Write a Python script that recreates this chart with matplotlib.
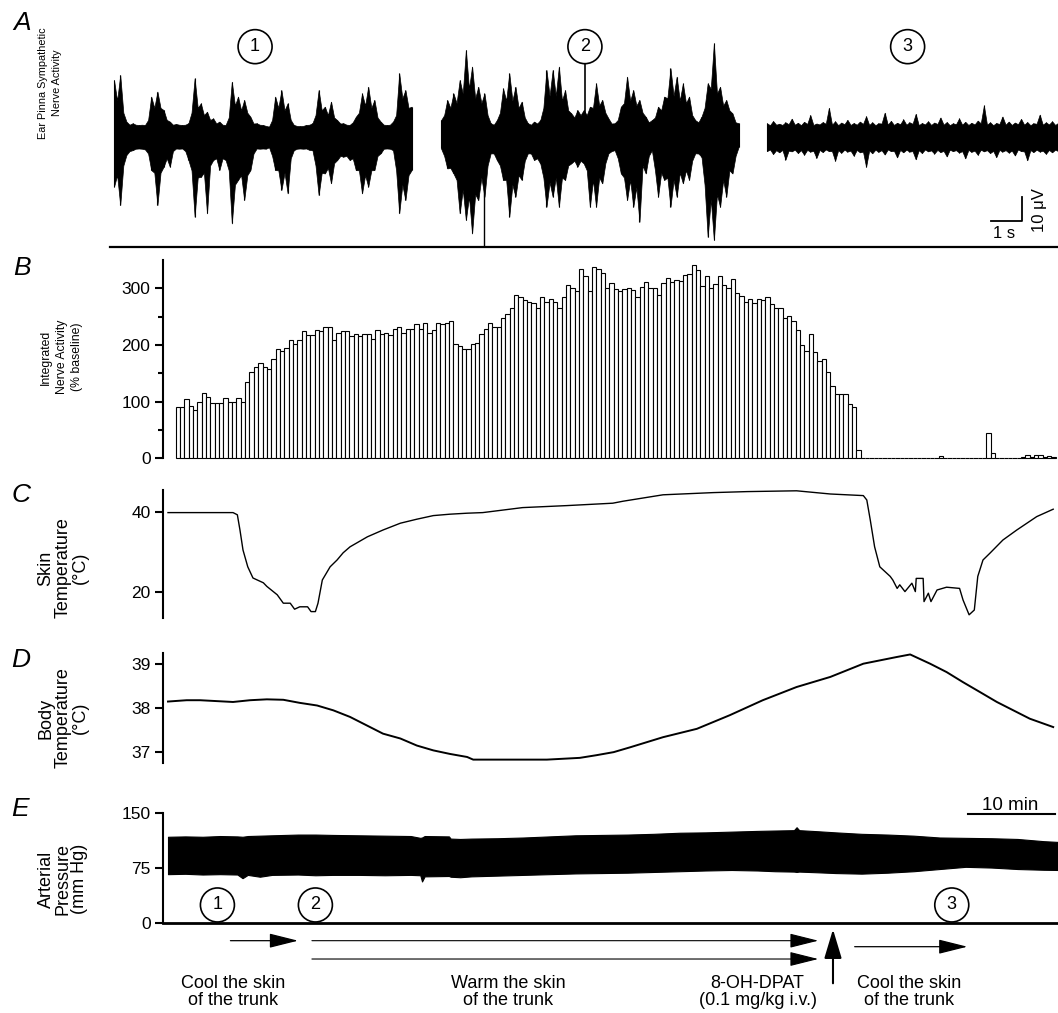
import matplotlib
matplotlib.use('Agg')
import matplotlib.pyplot as plt
import numpy as np
from matplotlib.patches import Ellipse
from matplotlib import font_manager

plt.rcParams['font.family'] = ['Liberation Sans', 'DejaVu Sans']
installed = {f.name for f in font_manager.fontManager.ttflist}
NARROW = 'Liberation Sans Narrow' in installed

# ---- A: sympathetic nerve activity envelope (uV), peaks every 0.2 s, valleys in between ----
seg_start = [0.13, 10.68, 21.19]   # s
seg1_up = [23.6, 25.7, 6.3, 5.6, 4.9, 4.9, 16.7, 18.8, 11.1, 6.3, 5.3, 4.9, 5.6, 24.3, 13.9, 10.4, 7.6,
           6.3, 4.9, 22.9, 16.7, 15.3, 8.3, 5.6, 4.9, 4.2, 16.7, 19.4, 13.9, 4.9, 4.4, 4.9, 5.6, 19.4,
           12.5, 14.6, 6.9, 5.6, 4.9, 8.3, 18.0, 20.8, 15.3, 6.3, 4.9, 6.3, 26.4, 19.4, 12.5]
seg1_lo = [-20.8, -28.5, -7.6, -5.6, -4.9, -5.3, -13.9, -28.5, -12.5, -12.5, -4.9, -4.9, -9.7, -33.3,
           -16.7, -31.9, -9.7, -13.9, -9.7, -36.1, -18.0, -26.4, -13.9, -4.9, -4.9, -4.4, -13.9, -22.2,
           -23.6, -5.6, -4.9, -4.9, -5.6, -24.3, -15.3, -19.4, -9.7, -8.3, -9.7, -13.9, -23.6, -20.8,
           -13.9, -6.9, -4.9, -5.6, -31.9, -26.4, -13.9]
seg1_vup = [15, 10, 5, 5, 5, 7, 12, 12, 7, 5, 5, 5, 10, 12, 9, 7, 5.5, 5, 8, 13, 11, 10, 5.5, 5, 4.5, 7,
            12, 11, 7, 4.5, 4.5, 5, 9, 11, 9, 8, 5.5, 5, 6, 10, 13, 12, 8, 5, 5, 9, 16, 12]
seg1_vlo = [-16, -12, -6, -5, -5, -7, -15, -15, -9, -6, -5, -6, -14, -17, -15, -12, -9, -9, -14, -20,
            -16, -16, -7, -5, -5, -8, -14, -15, -9, -5, -5, -5.5, -12, -15, -13, -11, -8, -8, -9, -14,
            -16, -14, -8, -5, -5, -14, -20, -16]
seg2_up = [6.9, 15.3, 18.0, 23.6, 36.1, 29.2, 20.8, 18.0, 5.6, 6.9, 20.1, 26.4, 20.8, 14.6, 5.6, 6.3,
           6.9, 27.8, 27.8, 29.2, 19.4, 9.7, 11.1, 11.1, 12.5, 22.2, 15.3, 7.6, 5.6, 12.5, 25.0, 19.4,
           15.3, 8.3, 6.9, 12.5, 16.7, 28.5, 25.0, 22.2, 16.7, 6.9, 8.3, 22.2, 38.9, 20.8, 15.3, 9.7, 5.6]
seg2_lo = [-4.9, -13.2, -15.3, -31.9, -34.7, -40.3, -26.4, -25.0, -6.9, -9.7, -18.0, -33.3, -25.0,
           -18.0, -6.9, -9.7, -11.1, -29.2, -25.0, -29.2, -18.0, -11.1, -12.5, -11.1, -29.2, -29.2,
           -19.4, -6.9, -5.6, -15.3, -26.4, -29.2, -35.4, -15.3, -5.6, -25.0, -18.0, -29.2, -25.0,
           -19.4, -18.0, -6.9, -8.3, -41.7, -43.0, -29.2, -25.0, -15.3, -4.2]
seg2_vup = [9, 12, 14, 18, 20, 16, 14, 9, 5, 10, 15, 15, 12, 8, 5, 5.5, 12, 17, 17, 15, 11, 8, 9, 9, 12,
            13, 10, 5.5, 7, 14, 15, 13, 10, 6, 8, 11, 16, 17, 15, 14, 9, 6, 12, 20, 18, 13, 11, 6]
seg2_vlo = [-8, -13, -18, -22, -25, -24, -17, -12, -7, -12, -18, -20, -16, -10, -7, -9, -17, -19, -17,
            -17, -12, -10, -10, -14, -18, -17, -11, -6, -9, -17, -18, -21, -12, -8, -14, -15, -17, -18,
            -15, -14, -10, -7, -20, -26, -24, -18, -14, -8]
seg3_up = [5.6, 6.5, 5.4, 6.0, 7.5, 5.8, 6.2, 9.0, 5.5, 6.1, 12.0, 6.4, 5.9, 7.0, 5.7, 6.3, 8.5, 6.0,
           5.6, 10.0, 6.6, 5.8, 7.2, 6.0, 9.5, 5.7, 6.4, 5.9, 8.0, 6.1, 5.6, 7.6, 6.2, 5.8, 6.7, 13.0,
           6.0, 5.7, 8.4, 6.3, 5.9, 7.4, 6.1, 5.6, 9.2, 6.0, 6.4, 5.8]
seg3_lo = [-6.0, -7.2, -6.5, -9.5, -6.1, -6.8, -7.5, -6.2, -8.8, -6.4, -6.0, -10.0, -6.7, -6.2, -7.9,
           -6.5, -12.5, -6.9, -6.3, -7.4, -6.0, -8.6, -6.5, -6.2, -9.4, -6.8, -6.1, -7.0, -6.4, -8.2,
           -6.0, -6.6, -9.0, -6.3, -7.5, -6.1, -6.8, -8.5, -6.2, -6.6, -7.8, -6.0, -9.8, -6.4, -6.2,
           -7.1, -6.5, -6.0]
seg3_vup = [4.8, 5.0, 4.9, 5.2, 5.0, 4.8, 5.3, 4.9, 5.1, 5.4, 5.0, 4.8, 5.2, 4.9, 5.0, 5.3, 4.9, 4.8,
            5.5, 5.0, 4.9, 5.2, 5.0, 5.4, 4.8, 5.1, 4.9, 5.3, 5.0, 4.8, 5.2, 5.0, 4.9, 5.1, 5.6, 5.0,
            4.8, 5.3, 5.0, 4.9, 5.2, 5.0, 4.8, 5.4, 5.0, 5.1, 4.9]
seg3_vlo = [-5.3, -5.6, -5.5, -5.8, -5.4, -5.6, -5.5, -5.9, -5.5, -5.3, -6.0, -5.6, -5.4, -5.8, -5.5,
            -6.2, -5.7, -5.4, -5.6, -5.3, -5.9, -5.5, -5.4, -6.0, -5.6, -5.3, -5.7, -5.5, -5.9, -5.4,
            -5.6, -6.0, -5.5, -5.8, -5.4, -5.6, -5.9, -5.5, -5.6, -5.8, -5.3, -6.1, -5.6, -5.4, -5.8,
            -5.5, -5.4]
artifact_t, artifact_lo = 12.06, -45.8

# ---- B: integrated nerve activity, 0.5-min bins (% baseline) ----
bin_start, bin_width = 0.9, 0.5
nerve_pct = [91, 91, 104, 92, 86, 100, 116, 108, 97, 97, 98, 106, 100, 100, 107, 99, 135, 153, 161, 169,
             162, 158, 176, 193, 189, 195, 209, 202, 209, 225, 218, 218, 226, 225, 232, 232, 209, 222,
             224, 224, 215, 219, 216, 220, 219, 211, 226, 219, 222, 218, 228, 232, 222, 228, 228, 237,
             229, 239, 222, 226, 239, 237, 238, 242, 202, 198, 193, 193, 201, 203, 220, 228, 238, 231,
             231, 247, 254, 265, 289, 285, 280, 276,
             274, 266, 285, 276, 281, 276, 266, 284, 305, 301, 296, 334, 322, 296, 338, 334, 327, 300,
             309, 298, 296, 298, 300, 297, 284, 303, 312, 300, 300, 289, 309, 318, 312, 315, 313, 324,
             325, 342, 332, 304, 322, 301, 307, 321, 306, 300, 316, 292, 286, 276, 282, 274, 282, 279,
             284, 272, 266, 265, 247, 252, 242, 226, 200, 190, 219, 187, 172, 175, 152, 128, 114, 114,
             114, 96, 91, 15,
             1, 1, 1, 1, 1, 1, 1, 1, 1, 1, 1, 1, 1, 1, 1, 1, 1, 1, 4, 1, 1, 1, 1, 1, 1, 1, 1, 1, 1, 44,
             10, 1, 1, 1, 1, 1, 1, 3, 6, 2, 6, 6, 3, 4, 3]

# ---- C: skin temperature (degC) ----
skin_t = [0, 7.5, 8.0, 8.3, 8.65, 9.2, 9.8, 11.0, 11.4, 12.6, 13.3, 14.1, 14.6, 15.2, 16.1, 16.5, 17.0,
          17.3, 17.8, 18.7, 19.5, 20.2, 21.0, 21.8, 23.0, 24.8, 26.8, 28.7, 30.6, 32.5, 34.5, 36.3, 40.9,
          46.0, 51.3, 52.5, 57.1, 62.9, 66.8, 72.5, 76.4, 80.2, 80.6, 81.0,
          81.5, 82.1, 83.3, 83.6, 84.1, 84.4, 85.0, 85.8, 86.2, 86.3, 87.1, 87.2, 87.7, 88.0, 88.7, 89.8,
          91.3, 91.7, 92.4, 93.0, 93.4, 94.0, 94.8, 96.3, 97.9, 100.2, 102.1]
skin_temp = [39.75, 39.75, 39.2, 35.4, 30.4, 26.2, 23.4, 22.2, 21.3, 19.2, 17.1, 17.1, 15.6, 16.2, 16.2,
             15.0, 15.0, 17.1, 22.9, 26.2, 27.9, 29.7, 31.2, 32.2, 33.7, 35.4, 37.1, 38.1, 39.0, 39.35,
             39.6, 39.75, 41.0, 41.5, 42.1, 42.6, 44.2, 44.75, 45.0, 45.2, 44.4, 44.0, 42.9, 37.9,
             31.2, 26.2, 23.8, 22.9, 20.8, 21.7, 20.0, 22.1, 20.0, 23.3, 23.3, 17.5, 19.6, 17.5, 20.4,
             21.1, 20.8, 17.9, 14.2, 15.4, 23.8, 27.9, 29.6, 32.9, 35.4, 38.75, 40.6]

# ---- D: body temperature (degC) ----
body_t = [0, 2.15, 3.7, 5.6, 7.5, 9.46, 11.4, 13.3, 15.2, 17.2, 19.07, 21.0, 22.9, 24.8, 26.8, 28.7,
          30.6, 32.5, 34.5, 35.2, 40.9, 43.7, 47.5, 49.4, 51.4, 53.3, 57.1, 61.0, 64.8, 68.6, 72.5, 76.4,
          80.2, 84.0, 85.6, 87.9, 89.8, 91.7, 93.7, 95.6, 97.5, 99.4, 102.1]
body_temp = [38.14, 38.17, 38.17, 38.15, 38.13, 38.17, 38.19, 38.18, 38.11, 38.05, 37.94, 37.79, 37.60,
             37.41, 37.30, 37.14, 37.03, 36.95, 36.88, 36.82, 36.82, 36.82, 36.86, 36.92, 36.99, 37.10,
             37.33, 37.52, 37.83, 38.17, 38.47, 38.70, 39.0, 39.15, 39.21, 39.0, 38.81, 38.58, 38.35,
             38.13, 37.94, 37.75, 37.56]

# ---- E: arterial pressure envelope (mm Hg) ----
ap_t = [0, 2, 4, 6, 8.0, 8.6, 9.2, 10.6, 12, 15, 17, 19, 22, 25, 28, 29.1, 29.3, 29.6, 32.4, 32.6,
        33.7, 35, 38, 41, 44, 47, 50, 53, 56, 59, 62, 65, 68, 70, 72.2, 72.5, 72.8, 75, 77, 80,
        83, 86, 89, 92, 95, 98, 101, 102.6]
ap_top = [118, 118.5, 118, 119, 118.5, 118, 119, 119.5, 120, 121, 121, 120.5, 120, 119.5, 119, 116.5,
          117, 119, 118.5, 115.5, 115, 115.5, 116, 117, 118.5, 120, 120.5, 121, 122, 123.5, 124, 125,
          126, 126.5, 127, 131, 127, 125.5, 124, 122, 121, 119.5, 117, 116.5, 116, 115, 112, 111]
ap_bot = [67, 67.5, 66.5, 67, 66.5, 61.5, 66, 63.5, 66, 66.5, 65.5, 66, 66, 65.5, 66, 65.5, 57, 64,
          64.5, 63.5, 62.8, 64, 65, 66, 67, 68, 68.5, 69, 70, 71, 72, 72.7, 72, 71, 70.5, 70, 70.5,
          69.5, 68.5, 67.7, 69, 71, 74, 77, 76, 74, 73, 72.7]

# protocol events (min)
marker_t = [5.7, 17.0, 90.4]
cool1 = (7.2, 15.0)
warm = (16.6, 75.0)
drug_t = 76.7
cool2 = (79.2, 92.2)

W, H = 1058, 1013
PXM = 8.67  # px per minute
fig = plt.figure(figsize=(W / 100, H / 100), dpi=100)


def box(left, top, right, bottom):
    return [left / W, 1 - bottom / H, (right - left) / W, (bottom - top) / H]


def ylab(x, y, s, size=13, family=None, ls=1.15):
    fig.text(x / W, 1 - y / H, s, rotation=90, ha='center', va='center', multialignment='center',
             fontsize=size, linespacing=ls, family=family)


def style(ax, bottom=False):
    for s in ['top', 'right']:
        ax.spines[s].set_visible(False)
    ax.spines['bottom'].set_visible(bottom)
    ax.spines['left'].set_linewidth(1.5)
    ax.spines['bottom'].set_linewidth(2)
    ax.set_xticks([])
    ax.tick_params(axis='y', direction='out', length=6, width=1.5, labelsize=12.5, pad=3)
    ax.set_xlim(-5 / PXM, 890 / PXM)


def interleave(peaks, valleys):
    out = []
    for i, p in enumerate(peaks):
        out.append(p)
        if i < len(valleys):
            out.append(valleys[i])
    return out


# ---------- A ----------
axA = fig.add_axes(box(110, 20, 1058, 246.7))
for s in ['top', 'right', 'left']:
    axA.spines[s].set_visible(False)
axA.spines['bottom'].set_linewidth(1.6)
axA.set_xticks([])
axA.set_yticks([])
axA.set_xlim(0, 948 / 31)
axA.set_ylim(-45.8, 48.6)
segs = [(seg_start[0], seg1_up, seg1_vup, seg1_lo, seg1_vlo),
        (seg_start[1], seg2_up, seg2_vup, seg2_lo, seg2_vlo),
        (seg_start[2], seg3_up, seg3_vup, seg3_lo, seg3_vlo)]
for t0, up, vup, lo, vlo in segs:
    env_up = interleave(up, vup)
    env_lo = interleave(lo, vlo)
    tt = t0 + 0.1 * np.arange(len(env_up))
    axA.fill_between(tt, env_lo, env_up, color='k', lw=0.5)
    axA.vlines(t0 + 0.2 * np.arange(len(up)), lo, up, color='k', lw=0.8)
axA.vlines(artifact_t, artifact_lo, 0, color='k', lw=1)
circ_a = [4.68, 15.32, 25.73]
for i, cx in enumerate(circ_a):
    axA.add_patch(Ellipse((cx, 37.5), 34 / 31, 34 / 2.4, fill=False, ec='k', lw=1.2, clip_on=False))
    axA.text(cx, 37.5, str(i + 1), ha='center', va='center', fontsize=13)
axA.plot([circ_a[1], circ_a[1]], [30.4, 5], color='k', lw=1.2)
# scale bar 1 s / 10 uV
axA.plot([28.42, 29.42, 29.42], [-35.1, -35.1, -25.1], color='k', lw=1.3)
axA.text(28.85, -37, '1 s', ha='center', va='top', fontsize=12)
axA.text(29.97, -30.5, '10 \u03bcV', ha='center', va='center', rotation=90, fontsize=12)

# ---------- B ----------
axB = fig.add_axes(box(163, 260, 1058, 458.3))
style(axB)
lefts = bin_start + bin_width * np.arange(len(nerve_pct))
axB.bar(lefts, nerve_pct, width=bin_width, align='edge', color='white', edgecolor='k', lw=0.8,
        clip_on=False)
axB.set_ylim(0, 350)
axB.set_yticks([0, 100, 200, 300])
axB.set_yticks([50, 150, 250], minor=True)
axB.tick_params(axis='y', which='minor', direction='out', length=3.5, width=1.5)

# ---------- C ----------
axC = fig.add_axes(box(163, 490, 1058, 618))
style(axC)
axC.plot(skin_t, skin_temp, color='k', lw=1)
axC.set_ylim(13.4, 45.4)
axC.set_yticks([20, 40])

# ---------- D ----------
axD = fig.add_axes(box(163, 652.7, 1058, 762.7))
style(axD)
axD.plot(body_t, body_temp, color='k', lw=1.4)
axD.set_ylim(36.75, 39.25)
axD.set_yticks([37, 38, 39])

# ---------- E ----------
axE = fig.add_axes(box(163, 813.3, 1058, 923.3))
style(axE, bottom=True)
axE.fill_between(ap_t, ap_bot, ap_top, color='k', lw=0.8)
axE.set_ylim(0, 150)
axE.set_yticks([0, 75, 150])
mm = 75 / 55  # mmHg per px
for i, cx in enumerate(marker_t):
    axE.add_patch(Ellipse((cx, 25), 34 / PXM, 34 * mm, fill=False, ec='k', lw=1.2, clip_on=False))
    axE.text(cx, 25, str(i + 1), ha='center', va='center', fontsize=13)
axE.plot([92.3, 102.3], [149, 149], color='k', lw=1.5, clip_on=False)
axE.text(97.1, 161, '10 min', ha='center', va='center', fontsize=13.5, clip_on=False)


def arrow(x0, y0, x1, y1, hl=1.0, hw=0.25, lw=0.9):
    axE.annotate('', xy=(x1, y1), xytext=(x0, y0), annotation_clip=False,
                 arrowprops=dict(arrowstyle='-|>,head_length=%g,head_width=%g' % (hl, hw),
                                 mutation_scale=18, lw=lw, color='k', shrinkA=0, shrinkB=0))


arrow(cool1[0], -23.7, cool1[1], -23.7)
arrow(warm[0], -23.7, warm[1], -23.7, lw=0.8)
arrow(warm[0], -48.7, warm[1], -48.7, lw=0.8)
arrow(drug_t, -81.8, drug_t, -8.2, hw=0.3, lw=1.5)
arrow(cool2[0], -31.9, cool2[1], -31.9)

ytxt = -70.5
axE.text(7.5, ytxt, 'Cool the skin\nof the trunk', ha='center', va='top', fontsize=13, linespacing=1.0,
         clip_on=False)
axE.text(39.2, ytxt, 'Warm the skin\nof the trunk', ha='center', va='top', fontsize=13, linespacing=1.0,
         clip_on=False)
axE.text(68.0, ytxt, '8-OH-DPAT\n(0.1 mg/kg i.v.)', ha='center', va='top', fontsize=13, linespacing=1.0,
         clip_on=False)
axE.text(85.5, ytxt, 'Cool the skin\nof the trunk', ha='center', va='top', fontsize=13, linespacing=1.0,
         clip_on=False)

# ---------- labels ----------
if NARROW:
    ylab(50, 83, 'Ear Pinna Sympathetic\nNerve Activity', size=8.5, family='Liberation Sans Narrow', ls=1.35)
    ylab(61.5, 357, 'Integrated\nNerve Activity\n(% baseline)', size=10, family='Liberation Sans Narrow')
else:
    ylab(50, 83, 'Ear Pinna Sympathetic\nNerve Activity', size=7.8, ls=1.5)
    ylab(61.5, 357, 'Integrated\nNerve Activity\n(% baseline)', size=8.8, ls=1.35)
ylab(63, 568, 'Skin\nTemperature\n(\u00b0C)', ls=1.0)
ylab(63, 718, 'Body\nTemperature\n(\u00b0C)', ls=1.0)
ylab(63, 879, 'Arterial\nPressure\n(mm Hg)', ls=1.0)

for letter, (x, y) in zip('ABCDE', [(22, 23), (22, 268), (21, 495), (21, 660), (20, 809)]):
    fig.text(x / W, 1 - y / H, letter, fontsize=19, style='italic', ha='center', va='center')

fig.savefig('out.png', dpi=100)
